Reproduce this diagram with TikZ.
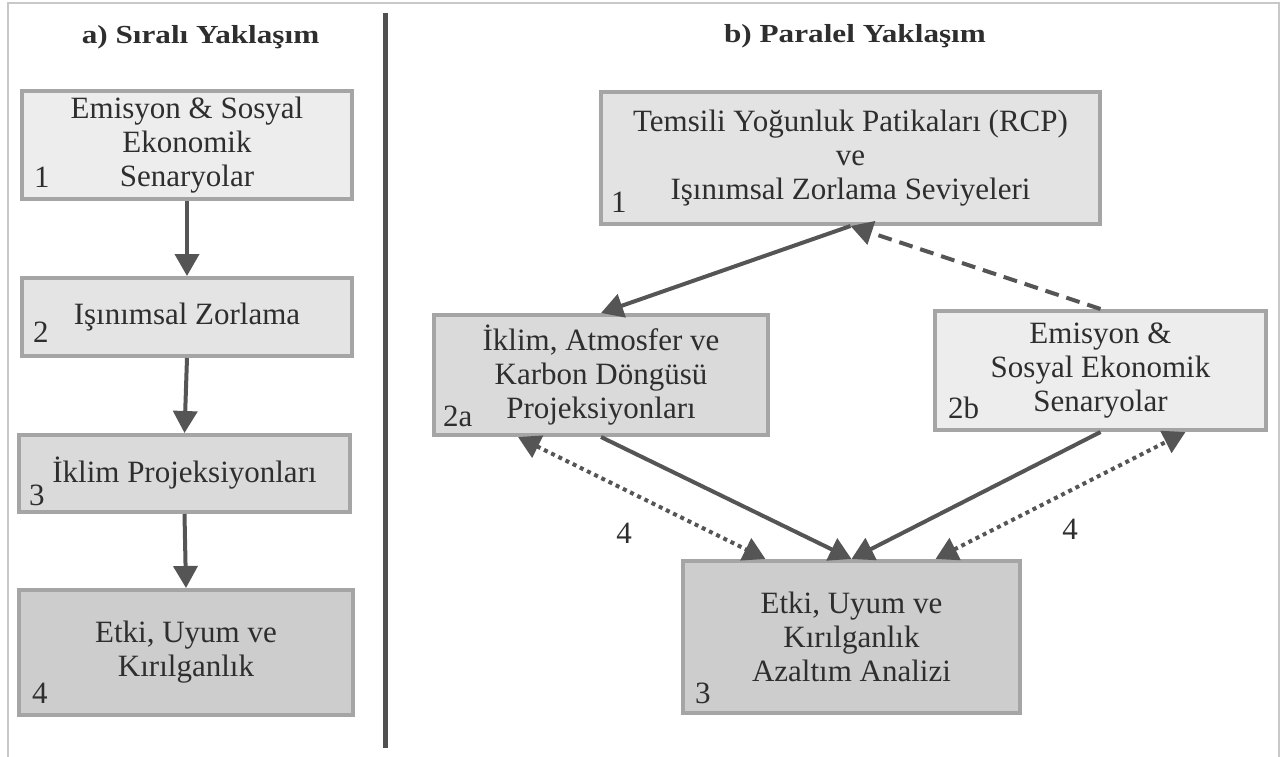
\documentclass[tikz,border=0pt]{standalone}
\usepackage{fontspec}
\setmainfont{Liberation Serif}
\usepackage{graphicx}
\usetikzlibrary{arrows.meta}
\definecolor{framec}{HTML}{C8C8C8}
\definecolor{divc}{HTML}{505050}
\definecolor{edgec}{HTML}{A5A5A5}
\definecolor{arrc}{HTML}{555555}
\definecolor{txtc}{HTML}{2E2E2E}
\definecolor{fA}{HTML}{EDEDED}
\definecolor{fB}{HTML}{E4E4E4}
\definecolor{fC}{HTML}{DADADA}
\definecolor{fD}{HTML}{CDCDCD}
\definecolor{fE}{HTML}{E3E3E3}
\tikzset{
  boxst/.style={draw=edgec, line width=4pt, align=center, text=txtc,
    font=\fontsize{31}{34}\selectfont, inner sep=0pt},
  numlbl/.style={anchor=base west, text=txtc, font=\fontsize{31}{34}\selectfont, inner sep=0pt},
  titlest/.style={anchor=base, text=txtc, inner sep=0pt},
  arr/.style={draw=arrc, line width=4pt, -{Triangle[width=24pt,length=22pt]}},
  darr/.style={arr, {Triangle[width=24pt,length=22pt]}-{Triangle[width=24pt,length=22pt]}, dash pattern=on 4pt off 4pt},
  dsh/.style={arr, dash pattern=on 14pt off 8pt},
}
\begin{document}
\begin{tikzpicture}[x=1pt,y=-1pt]
\useasboundingbox (0,0) rectangle (1283,757);
% frame and divider
\coordinate (fbl) at (8,757);
\coordinate (ftl) at (8,3);
\coordinate (ftr) at (1279,3);
\coordinate (fbr) at (1279,757);
\draw[framec, line width=2pt] (fbl) -- (ftl) -- (ftr) -- (fbr);
\coordinate (dvt) at (385,13);
\coordinate (dvb) at (385,748);
\draw[divc, line width=5pt] (dvt) -- (dvb);
% titles
\node[titlest] (ta) at (200.5,44) {\scalebox{1.2}[1]{\fontsize{26}{26}\selectfont\bfseries a) Sıralı Yaklaşım}};
\node[titlest] (tb) at (855,43) {\scalebox{1.2}[1]{\fontsize{26}{26}\selectfont\bfseries b) Paralel Yaklaşım}};
% left boxes
\node[boxst, fill=fA, minimum width=330pt, minimum height=108pt] (L1) at (187,145) {Emisyon \& Sosyal\\Ekonomik\\Senaryolar};
\node[boxst, fill=fB, minimum width=330pt, minimum height=78pt] (L2) at (187,317) {Işınımsal Zorlama};
\node[boxst, fill=fC, minimum width=331pt, minimum height=77pt] (L3) at (184.5,473.5) {İklim Projeksiyonları};
\node[boxst, fill=fD, minimum width=334pt, minimum height=125pt] (L4) at (186,652.5) {Etki, Uyum ve\\Kırılganlık};
\node[numlbl] (nL1) at ([xshift=14pt,yshift=14pt]L1.south west) {1};
\node[numlbl] (nL2) at ([xshift=13pt,yshift=16pt]L2.south west) {2};
\node[numlbl] (nL3) at ([xshift=12pt,yshift=9pt]L3.south west) {3};
\node[numlbl] (nL4) at ([xshift=15pt,yshift=14pt]L4.south west) {4};
\draw[arr] (L1.south) -- (L2.north);
\draw[arr] (L2.south) -- (L3.north);
\draw[arr] (L3.south) -- (L4.north);
% right boxes
\node[boxst, fill=fE, minimum width=499pt, minimum height=132pt] (R1) at (850.5,158) {Temsili Yoğunluk Patikaları (RCP)\\ve\\Işınımsal Zorlama Seviyeleri};
\node[boxst, fill=fC, minimum width=334pt, minimum height=120pt] (R2a) at (601,375) {İklim, Atmosfer ve\\Karbon Döngüsü\\Projeksiyonları};
\node[boxst, fill=fA, minimum width=331pt, minimum height=119pt] (R2b) at (1100.5,370.5) {Emisyon \&\\Sosyal Ekonomik\\Senaryolar};
\node[boxst, fill=fD, minimum width=337pt, minimum height=152pt] (R3) at (851.5,637) {Etki, Uyum ve\\Kırılganlık\\Azaltım Analizi};
\node[numlbl] (nR1) at ([xshift=12pt,yshift=14pt]R1.south west) {1};
\node[numlbl] (nR2a) at ([xshift=11pt,yshift=11pt]R2a.south west) {2a};
\node[numlbl] (nR2b) at ([xshift=15pt,yshift=14pt]R2b.south west) {2b};
\node[numlbl] (nR3) at ([xshift=14pt,yshift=12pt]R3.south west) {3};
\draw[arr] (R1.south) -- (R2a.north);
\draw[dsh] (R2b.north) -- (R1.south);
\draw[arr] (R2a.south) -- (R3.north);
\draw[arr] (R2b.south) -- (R3.north);
\draw[darr] ([xshift=-83pt]R2a.south) -- ([xshift=-86pt]R3.north);
\draw[darr] ([xshift=84pt]R3.north) -- ([xshift=85pt]R2b.south);
\node[text=txtc, font=\fontsize{31}{34}\selectfont, inner sep=0pt] (l4a) at (624,533) {4};
\node[text=txtc, font=\fontsize{31}{34}\selectfont, inner sep=0pt] (l4b) at (1070,529) {4};
\end{tikzpicture}
\end{document}
